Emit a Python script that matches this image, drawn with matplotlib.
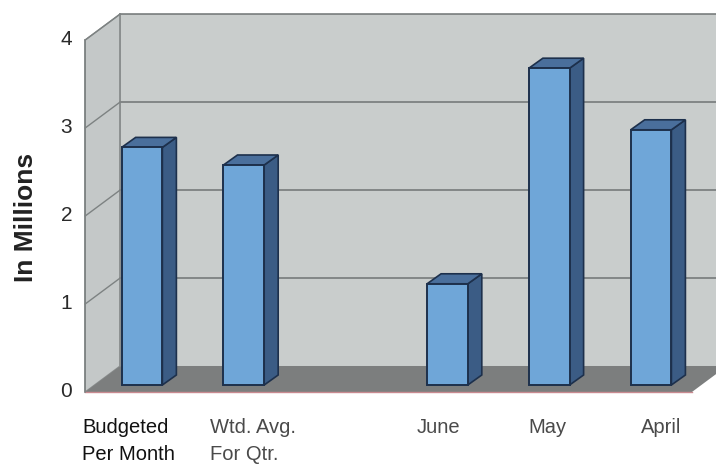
import matplotlib
matplotlib.use("Agg")
import matplotlib.pyplot as plt
import matplotlib.transforms as mtransforms
from matplotlib.patches import Polygon

# data (millions)
categories = ["Budgeted\nPer Month", "Wtd. Avg.\nFor Qtr.", "", "June", "May", "April"]
values = [2.7, 2.5, None, 1.15, 3.6, 2.9]
yticks = [0, 1, 2, 3, 4]

# label nudges (data x units) to follow the scan's hand placement
LAB_DX = [-0.59, -0.33, 0, -0.09, -0.02, 0.10]
LAB_HA = ["left", "left", "center", "center", "center", "center"]

# pseudo-3D depth offsets (pixels, relative to bar front plane)
FRONT = (-10, -7)
BACK = (25, 19)
BAR_DEPTH = (14, 10)
BAR_W = 0.40
X_LEFT, X_RIGHT = -0.46, 5.5

WALL = "#c9cdcc"
SIDE_WALL = "#c4c8c8"
FLOOR = "#7c7e7e"
GRID = "#6f7474"
FACE = "#6fa6d8"
SIDE = "#3b5c85"
TOP = "#4a6f9c"
EDGE = "#1d304c"

fig = plt.figure(figsize=(7.16, 4.70), dpi=100)
ax = fig.add_axes([0, 0, 1, 1])
ax.set_xlim(-1.395, 5.638)
ax.set_ylim(-0.966, 4.375)
ax.axis("off")


def off(dx, dy):
    return mtransforms.offset_copy(ax.transData, fig=fig, x=dx, y=dy, units="dots")


def disp(tr, x, y):
    return tr.transform((x, y))


t_front = off(*FRONT)
t_back = off(*BACK)
ymax = yticks[-1]
fig.canvas.draw()

# back wall
ax.add_patch(Polygon([(X_LEFT, 0), (X_RIGHT + 1, 0), (X_RIGHT + 1, ymax), (X_LEFT, ymax)],
                     closed=True, facecolor=WALL, edgecolor="none", transform=t_back, zorder=1))

# left wall and floor span two planes -> build them in display coords
lw_pts = [disp(t_front, X_LEFT, 0), disp(t_back, X_LEFT, 0),
          disp(t_back, X_LEFT, ymax), disp(t_front, X_LEFT, ymax)]
ax.add_patch(Polygon(lw_pts, closed=True, facecolor=SIDE_WALL, edgecolor="#8a8e8e",
                     lw=1.0, transform=None, zorder=2))
fl_pts = [disp(t_front, X_LEFT, 0), disp(t_front, X_RIGHT, 0),
          disp(t_back, X_RIGHT, 0), disp(t_back, X_RIGHT + 1, 0),
          disp(t_back, X_LEFT, 0)]
ax.add_patch(Polygon(fl_pts, closed=True, facecolor=FLOOR, edgecolor="none",
                     transform=None, zorder=2))
ax.plot([X_LEFT, X_RIGHT], [0, 0], color="#c98a90", lw=1.0, transform=t_front, zorder=3)

# gridlines: back wall + left wall diagonals
for v in yticks[1:]:
    ax.plot([X_LEFT, X_RIGHT + 1], [v, v], color=GRID, lw=1.1, transform=t_back, zorder=2)
    p0, p1 = disp(t_front, X_LEFT, v), disp(t_back, X_LEFT, v)
    ax.plot([p0[0], p1[0]], [p0[1], p1[1]], color="#7d8282", lw=1.0, transform=None, zorder=3)
ax.plot([X_LEFT, X_LEFT], [0, ymax], color="#8a8e8e", lw=1.2, transform=t_back, zorder=2)
ax.plot([X_LEFT, X_LEFT], [0, ymax], color="#7d8282", lw=1.2, transform=t_front, zorder=3)

# bars: front face via ax.bar, side + top faces offset by the bar depth
for i, v in enumerate(values):
    if v is None:
        continue
    x0, x1 = i - BAR_W / 2, i + BAR_W / 2
    a, b = disp(ax.transData, x0, 0), disp(ax.transData, x1, v)
    dx, dy = BAR_DEPTH
    side = [(b[0], a[1]), (b[0] + dx, a[1] + dy), (b[0] + dx, b[1] + dy), (b[0], b[1])]
    top = [(a[0], b[1]), (b[0], b[1]), (b[0] + dx, b[1] + dy), (a[0] + dx, b[1] + dy)]
    ax.add_patch(Polygon(side, closed=True, facecolor=SIDE, edgecolor=EDGE, lw=1.2,
                         transform=None, zorder=5))
    ax.add_patch(Polygon(top, closed=True, facecolor=TOP, edgecolor=EDGE, lw=1.2,
                         transform=None, zorder=5))
    ax.bar(i, v, width=BAR_W, color=FACE, edgecolor=EDGE, lw=1.4, zorder=6)

# tick labels at the front plane
for v in yticks:
    ax.text(X_LEFT, v, str(v), transform=off(FRONT[0] - 13, FRONT[1]), ha="right",
            va="center", fontsize=15, color="#2a2a2a", family="Liberation Sans")

# category labels
for i, lab in enumerate(categories):
    if not lab:
        continue
    ax.text(i + LAB_DX[i], -0.38, lab, ha=LAB_HA[i], va="top", fontsize=14.5,
            linespacing=1.5, color="#111111" if i == 0 else "#4a4a4a",
            family="Liberation Sans")

ax.text(-1.14, 1.9, "In Millions", rotation=90, ha="center", va="center",
        fontsize=19, fontweight="bold", color="#222222", family="Liberation Sans")

fig.savefig("out.png", dpi=100)
